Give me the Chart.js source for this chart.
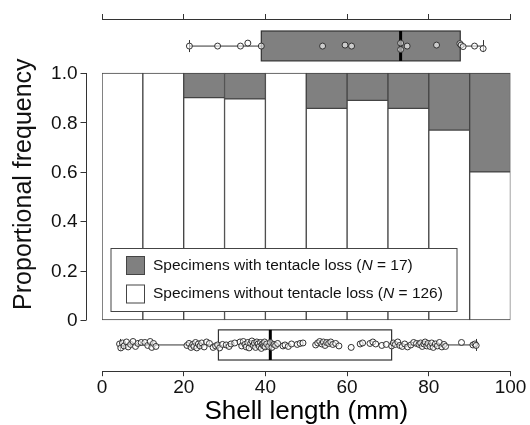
<!DOCTYPE html>
<html>
<head>
<meta charset="utf-8">
<script src="https://cdn.jsdelivr.net/npm/chart.js@4"></script>
<style>
  html, body { margin: 0; padding: 0; background: #fff; }
  #wrap { width: 530px; height: 425px; }
</style>
</head>
<body>
<div id="wrap"><canvas id="grafico" width="530" height="425"></canvas></div>
<script>
// 1. Datos
const binCenters = [5, 15, 25, 35, 45, 55, 65, 75, 85, 95];
const propWithout = [1, 1, 0.9, 0.895, 1, 0.857, 0.889, 0.857, 0.769, 0.6];
const xTicks = [0, 20, 40, 60, 80, 100];
const yTicks = [0, 0.2, 0.4, 0.6, 0.8, 1];
const yTickLabels = ['0', '0.2', '0.4', '0.6', '0.8', '1.0'];

// boxplot: min, q1, mediana, q3, max
const lossBox = [21.4, 39.0, 73.1, 87.7, 93.3];
const noLossBox = [4.4, 28.5, 41.2, 70.9, 91.5];

// individuos (longitud de concha) y su jitter vertical
const lossLengths = [21.4, 28.3, 33.9, 35.7, 39.0, 54.0, 59.5, 61.1, 73.1, 73.1, 74.7, 81.9, 87.6, 87.9, 88.4, 91.2, 93.3];
const lossJitter = [0, 0, 0, 0.012, 0, 0, 0.004, 0, 0.012, -0.014, 0, 0.004, 0.01, 0.004, -0.002, 0, -0.01];

const noLossLengths = [
  4.3, 4.6, 5.0, 5.4, 6.0, 6.4, 7.0, 7.6, 8.2, 8.8, 9.6,
  10.5, 11.2, 11.8, 12.2, 12.6, 13.2,
  20.8, 21.3, 21.8, 22.2, 22.5, 22.9, 23.2, 23.6, 24.0, 24.4, 25.0, 25.6, 26.3, 27.2, 27.8, 28.3, 28.8, 29.5,
  30.4, 31.1, 31.6, 32.5, 33.8, 34.2, 34.6, 35.0, 35.3, 35.7, 36.0, 36.4, 36.7, 37.0, 37.3, 37.6, 37.9, 38.2, 38.5, 38.8, 39.0, 39.2, 39.4, 39.6, 39.8, 39.9,
  40.3, 40.8, 41.2, 41.6, 42.1, 42.5, 43.0, 44.3, 44.8, 45.6, 46.4, 47.8, 48.5, 49.2,
  52.3, 52.8, 53.3, 53.8, 54.2, 54.6, 55.0, 55.5, 56.0, 56.5, 57.2, 58.0,
  61.0, 63.2, 63.8, 65.6, 66.3, 67.0, 68.5, 69.6,
  70.9, 71.3, 71.8, 72.4, 72.9, 73.5, 74.1, 74.8, 75.6, 76.3, 77.0, 77.6, 78.0, 78.4, 78.8, 79.1, 79.5, 79.8,
  80.3, 80.7, 81.1, 81.6, 82.1, 82.6, 83.2, 83.7, 84.1, 88.0,
  90.8, 91.3, 91.6
];
const noLossJitter = [
  0.004, -0.012, 0.008, -0.004, 0.012, -0.008, 0.002, 0.014, -0.006, 0.006, 0.010,
  0.010, -0.002, 0.014, -0.010, 0.006, -0.006,
  -0.002, 0.006, -0.010, 0.002, -0.006, 0.010, -0.012, 0.004, -0.004, 0.008, -0.008, 0.012, 0.006, -0.010, -0.004, 0.000, -0.012, 0.002,
  0.000, -0.006, 0.004, 0.008, 0.012, -0.004, 0.014, 0.002, -0.008, 0.010, -0.012, 0.006, 0.016, -0.002, 0.008, -0.010, 0.012, 0.004, -0.006, 0.010, -0.014, 0.002, 0.006, -0.004, 0.012, -0.008,
  0.004, -0.006, 0.010, -0.010, 0.002, -0.002, 0.006, -0.004, 0.000, -0.006, 0.004, 0.002, 0.006, 0.008,
  0.000, 0.008, 0.014, 0.004, 0.012, -0.002, 0.010, 0.006, 0.012, 0.002, 0.006, -0.004,
  -0.010, 0.004, 0.008, 0.006, 0.012, 0.004, -0.002, 0.002,
  -0.004, 0.008, 0.002, 0.012, -0.002, -0.006, 0.004, -0.008, 0.000, 0.010, 0.006, 0.002, 0.008, -0.006, 0.004, 0.012, -0.004, 0.006,
  -0.006, 0.008, -0.010, 0.004, -0.004, 0.010, -0.008, 0.002, -0.006, 0.010,
  0.000, 0.004, -0.002
];

const legendRows = [
  { pre: 'Specimens with tentacle loss (', n: '17', color: '#808080' },
  { pre: 'Specimens without tentacle loss (', n: '126', color: '#ffffff' }
];

// 2. Posiciones (en unidades del eje y) de las filas de boxplot
const TOP_ROW = { lo: 1.049, hi: 1.170, mid: 1.109 };
const BOTTOM_ROW = { lo: -0.162, hi: -0.040, mid: -0.101 };
const FONT = '"Liberation Sans", Arial, sans-serif';
const INK = '#333';

function drawBox(ctx, x, y, stats, row, fill) {
  const [mn, q1, med, q3, mx] = stats;
  const yc = y.getPixelForValue(row.mid);
  const yt = y.getPixelForValue(row.hi);
  const yb = y.getPixelForValue(row.lo);
  ctx.save();
  ctx.strokeStyle = INK;
  ctx.lineWidth = 1;
  ctx.beginPath();
  ctx.moveTo(x.getPixelForValue(mn), yc);
  ctx.lineTo(x.getPixelForValue(mx), yc);
  [mn, mx].forEach(v => {
    const px = Math.round(x.getPixelForValue(v)) + 0.5;
    ctx.moveTo(px, yc - 6);
    ctx.lineTo(px, yc + 6);
  });
  ctx.stroke();
  const l = x.getPixelForValue(q1), r = x.getPixelForValue(q3);
  ctx.fillStyle = fill;
  ctx.fillRect(l, yt, r - l, yb - yt);
  ctx.lineWidth = 1.2;
  ctx.strokeRect(l, yt, r - l, yb - yt);
  ctx.strokeStyle = '#000';
  ctx.lineWidth = 3;
  ctx.beginPath();
  ctx.moveTo(x.getPixelForValue(med), yt);
  ctx.lineTo(x.getPixelForValue(med), yb);
  ctx.stroke();
  ctx.restore();
}

const extras = {
  id: 'extras',
  beforeDatasetsDraw(chart) {
    const { ctx, scales: { x, y } } = chart;
    drawBox(ctx, x, y, lossBox, TOP_ROW, '#808080');
    drawBox(ctx, x, y, noLossBox, BOTTOM_ROW, '#ffffff');
  },
  afterDatasetsDraw(chart) {
    // leyenda dentro del area de barras
    const { ctx, chartArea, scales: { y } } = chart;
    const left = chartArea.left + 9;
    const top = Math.round(y.getPixelForValue(0.2915)) + 0.5;
    const bottom = Math.round(y.getPixelForValue(0.036)) + 0.5;
    ctx.save();
    ctx.fillStyle = '#fff';
    ctx.fillRect(left, top, 346, bottom - top);
    ctx.strokeStyle = '#444';
    ctx.lineWidth = 1;
    ctx.strokeRect(left, top, 346, bottom - top);
    ctx.textBaseline = 'middle';
    legendRows.forEach((row, i) => {
      const cy = top + 17 + i * 28.5;
      ctx.fillStyle = row.color;
      ctx.fillRect(left + 15.5, cy - 9, 18, 18);
      ctx.strokeStyle = '#444';
      ctx.strokeRect(left + 15.5, cy - 9, 18, 18);
      ctx.fillStyle = '#111';
      let tx = left + 42;
      ctx.font = '15.5px ' + FONT;
      ctx.fillText(row.pre, tx, cy);
      tx += ctx.measureText(row.pre).width;
      ctx.font = 'italic 15.5px ' + FONT;
      ctx.fillText('N', tx, cy);
      tx += ctx.measureText('N').width;
      ctx.font = '15.5px ' + FONT;
      ctx.fillText(' = ' + row.n + ')', tx, cy);
    });
    ctx.restore();
  },
  afterDraw(chart) {
    // eje y separado del area de trazado, solo de 0 a 1
    const { ctx, chartArea, scales: { y } } = chart;
    const ax = chartArea.left - 15.5;
    ctx.save();
    ctx.strokeStyle = INK;
    ctx.lineWidth = 1;
    ctx.beginPath();
    ctx.moveTo(ax, y.getPixelForValue(0));
    ctx.lineTo(ax, y.getPixelForValue(1));
    yTicks.forEach(v => {
      const py = Math.round(y.getPixelForValue(v)) + 0.5;
      ctx.moveTo(ax - 6, py);
      ctx.lineTo(ax, py);
    });
    ctx.stroke();
    ctx.fillStyle = '#111';
    ctx.font = '19px ' + FONT;
    ctx.textAlign = 'right';
    ctx.textBaseline = 'middle';
    yTicks.forEach((v, i) => ctx.fillText(yTickLabels[i], ax - 9, y.getPixelForValue(v) + 1));
    ctx.translate(24, y.getPixelForValue(0.55));
    ctx.rotate(-Math.PI / 2);
    ctx.textAlign = 'center';
    ctx.font = '25px ' + FONT;
    ctx.fillText('Proportional frequency', 0, 0);
    ctx.restore();
  }
};

// 3. Grafica
const ctx = document.getElementById('grafico');
new Chart(ctx, {
  type: 'bar',
  data: {
    datasets: [
      {
        label: 'Specimens without tentacle loss',
        data: binCenters.map((c, i) => ({ x: c, y: [0, propWithout[i]] })),
        backgroundColor: '#ffffff',
        borderColor: '#444',
        borderWidth: 1,
        borderSkipped: false,
        grouped: false,
        barPercentage: 1,
        categoryPercentage: 1
      },
      {
        label: 'Specimens with tentacle loss',
        data: binCenters.map((c, i) => ({ x: c, y: [propWithout[i], 1] })),
        backgroundColor: '#808080',
        borderColor: '#444',
        borderWidth: 1,
        borderSkipped: false,
        grouped: false,
        barPercentage: 1,
        categoryPercentage: 1
      },
      {
        type: 'scatter',
        data: lossLengths.map((v, i) => ({ x: v, y: TOP_ROW.mid + lossJitter[i] })),
        pointRadius: 3,
        borderWidth: 1,
        borderColor: INK,
        backgroundColor: 'rgba(255,255,255,0.6)'
      },
      {
        type: 'scatter',
        data: noLossLengths.map((v, i) => ({ x: v, y: BOTTOM_ROW.mid + noLossJitter[i] })),
        pointRadius: 3,
        borderWidth: 1,
        borderColor: INK,
        backgroundColor: 'rgba(255,255,255,0.6)'
      }
    ]
  },
  options: {
    responsive: false,
    animation: false,
    devicePixelRatio: 1,
    layout: { padding: { left: 102, right: 19.5, top: 14, bottom: 0 } },
    plugins: { legend: { display: false }, tooltip: { enabled: false } },
    scales: {
      x: {
        type: 'linear',
        position: 'bottom',
        min: 0,
        max: 100,
        offset: false,
        afterBuildTicks: axis => { axis.ticks = xTicks.map(v => ({ value: v })); },
        grid: { offset: false, drawOnChartArea: false, tickLength: 5, color: INK },
        border: { color: INK, width: 1 },
        ticks: { padding: 0, color: '#111', font: { size: 19, family: FONT }, maxRotation: 0 },
        title: {
          display: true,
          text: 'Shell length (mm)',
          color: '#000',
          padding: { top: 0, bottom: 0 },
          font: { size: 26, family: FONT, lineHeight: 1 }
        }
      },
      x2: {
        type: 'linear',
        position: 'top',
        min: 0,
        max: 100,
        offset: false,
        afterBuildTicks: axis => { axis.ticks = xTicks.map(v => ({ value: v })); },
        grid: { offset: false, drawOnChartArea: false, tickLength: 5, color: INK },
        border: { color: INK, width: 1 },
        ticks: { display: false }
      },
      y: {
        type: 'linear',
        display: false,
        min: -0.2073,
        max: 1.2186
      }
    }
  },
  plugins: [extras]
});
</script>
</body>
</html>
